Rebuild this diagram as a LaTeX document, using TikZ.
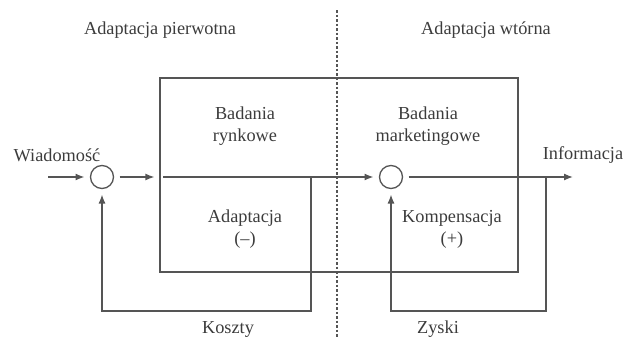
\documentclass[tikz,border=0pt]{standalone}
\usepackage{fontspec}
\setmainfont{Liberation Serif}
\usetikzlibrary{arrows.meta,calc}
\definecolor{ink}{HTML}{3C3C3C}
\definecolor{linegray}{HTML}{555555}
\begin{document}
\begin{tikzpicture}[x=1pt,y=-1pt,
    link/.style={draw=linegray,line width=1.3pt},
    flow/.style={link,-{Latex[length=9pt,width=7pt]}},
    sum/.style={circle,draw=linegray,line width=1.3pt,minimum size=23pt,inner sep=0pt,outer sep=6pt},
    lab/.style={text=ink,font=\fontsize{18.3}{22}\selectfont,align=center,inner sep=0pt}]
  \useasboundingbox (0,0) rectangle (625,338);
  \draw[draw=linegray,line width=1.2pt,dash pattern=on 2.5pt off 2pt] (337,10) -- (337,338);
  \node[link,minimum width=358pt,minimum height=194pt,inner sep=0pt] (box) at (339,175) {};
  \node[sum] (c1) at (102,177) {};
  \node[sum] (c2) at (391,177) {};
  \coordinate (in) at (48,177);
  \coordinate (out) at (573,177);
  \coordinate (kb) at (311,177);
  \coordinate (kd) at (311,311);
  \coordinate (zb) at (546,177);
  \coordinate (zd) at (546,311);
  \draw[flow] (in) -- (c1);
  \draw[flow] (c1) -- ($(c1 -| box.west)+(-5,0)$);
  \draw[flow] ($(c1 -| box.west)+(4,0)$) -- (c2);
  \draw[flow] (c2) -- (out);
  \draw[flow] (kb) -- (kd) -| (c1);
  \draw[flow] (zb) -- (zd) -| (c2);
  \node[lab] (ap) at (160,30) {Adaptacja pierwotna};
  \node[lab] (aw) at (486,30) {Adaptacja wtórna};
  \node[lab] (wi) at (57,155) {Wiadomość};
  \node[lab] (inf) at (583,155) {Informacja};
  \node[lab] (br) at (245,126) {Badania\\rynkowe};
  \node[lab] (bm) at (428,126) {Badania\\marketingowe};
  \node[lab] (ad) at (245,229) {Adaptacja\\(--)};
  \node[lab] (ko) at (452,229) {Kompensacja\\(+)};
  \node[lab] (ksz) at (228,329) {Koszty};
  \node[lab] (zy) at (438,329) {Zyski};
\end{tikzpicture}
\end{document}
